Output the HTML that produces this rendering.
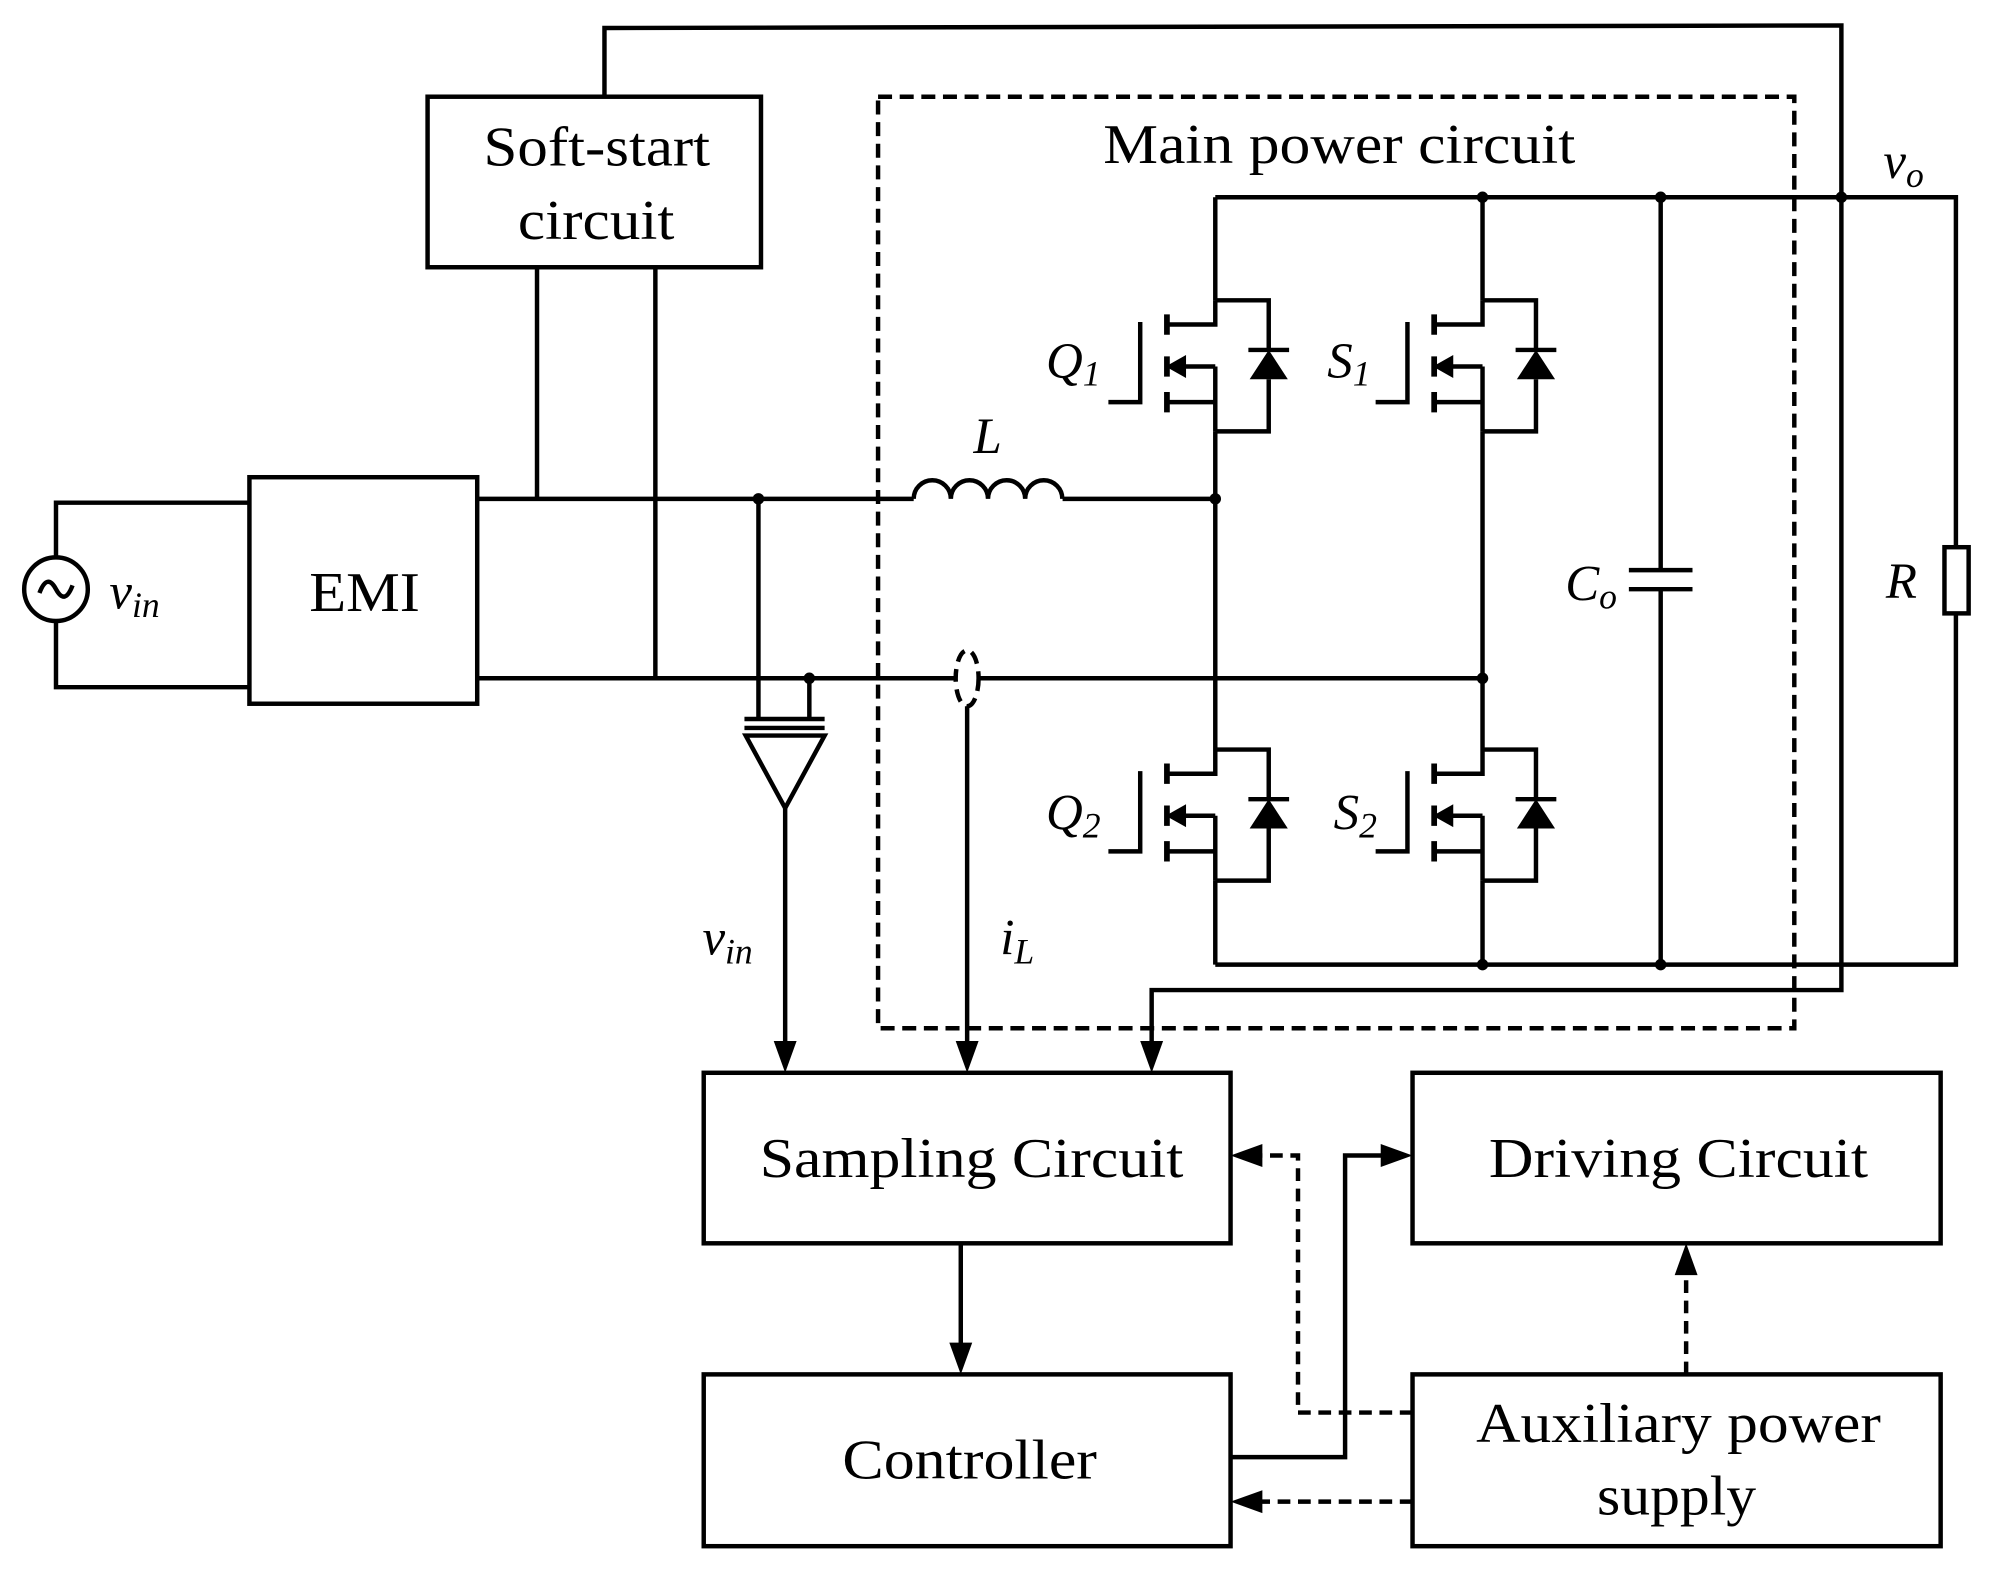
<!DOCTYPE html>
<html><head><meta charset="utf-8"><style>
html,body{margin:0;padding:0;background:#fff;}
svg{display:block;}
text{font-family:"Liberation Serif",serif;fill:#000;}
</style></head><body>
<svg width="1989" height="1571" viewBox="0 0 1563 1234.5" preserveAspectRatio="none" xmlns="http://www.w3.org/2000/svg">
<defs>
<g id="fet" fill="none" stroke="#000" stroke-width="3.5">
  <path d="M0,0 V19 H-38 M0,80 H-38 M0,52 H-26 M0,52 V103 M-59,17 V80 H-84"/>
  <path d="M-38,11 V27 M-38,44 V60 M-38,72 V88" stroke-width="4.5"/>
  <polygon points="-39,52 -23,43 -23,61" fill="#000" stroke="none"/>
  <path d="M0,0 H42 V39 M0,103 H42 V62 M26,39 H58"/>
  <polygon points="27,62 57,62 42,39" fill="#000" stroke="none"/>
</g>
</defs>
<g fill="none" stroke="#000" stroke-width="3.5">
  <path d="M475,76 V22 L1447,20 V778 H905 V825"/>
  <rect x="336" y="76" width="262" height="134"/>
  <path d="M422,210 V392 M515,210 V533"/>
  <rect x="196" y="375" width="179" height="178"/>
  <circle cx="44" cy="463" r="25"/>
  <path d="M31,466 q6,-16 13,-3 q7,13 13,-3"/>
  <path d="M44,438 V395 H196 M44,488 V540 H196"/>
  <path d="M375,392 H718 M835,392 H955"/>
  <path d="M718,392 a14.6,14.6 0 0 1 29.2,0 a14.6,14.6 0 0 1 29.2,0 a14.6,14.6 0 0 1 29.2,0 a14.6,14.6 0 0 1 29.2,0"/>
  <path d="M375,533 H751 M769,533 H1165"/>
  <ellipse cx="760" cy="533" rx="9" ry="22" stroke-dasharray="10,6"/>
  <path d="M760,555 V825"/>
  <path d="M596,392 V565 M636,533 V565 M585,565 H648 M585,572 H648"/>
  <polygon points="586,578 648,578 617,635"/>
  <path d="M617,635 V825"/>
  <rect x="690" y="76" width="720" height="732" stroke-dasharray="11,6"/>
  <path d="M955,155 H1537 V430 M1537,482 V758 H955"/>
  <rect x="1528" y="430" width="19" height="52"/>
  <path d="M955,155 V236 M955,339 V589 M955,692 V758 M1165,155 V236 M1165,339 V589 M1165,692 V758"/>
  <path d="M1305,155 V448 M1305,463 V758 M1280,448 H1330 M1280,463 H1330"/>
  <rect x="553" y="843" width="414" height="134"/>
  <rect x="553" y="1080" width="414" height="135"/>
  <rect x="1110" y="843" width="415" height="134"/>
  <rect x="1110" y="1080" width="415" height="135"/>
  <path d="M755,977 V1060"/>
  <path d="M967,1145 H1057 V908 H1090"/>
  <path d="M1110,1110 H1020 V908 H987" stroke-dasharray="10,6"/>
  <path d="M1110,1180 H987" stroke-dasharray="10,6"/>
  <path d="M1325,1080 V997" stroke-dasharray="10,6"/>
</g>
<use href="#fet" x="955" y="236"/>
<use href="#fet" x="1165" y="236"/>
<use href="#fet" x="955" y="589"/>
<use href="#fet" x="1165" y="589"/>
<g fill="#000">
  <circle cx="596" cy="392" r="4.5"/><circle cx="636" cy="533" r="4.5"/>
  <circle cx="955" cy="392" r="4.5"/><circle cx="1165" cy="533" r="4.5"/>
  <circle cx="1165" cy="155" r="4.5"/><circle cx="1305" cy="155" r="4.5"/><circle cx="1447" cy="155" r="4.5"/>
  <circle cx="1165" cy="758" r="4.5"/><circle cx="1305" cy="758" r="4.5"/>
  <polygon points="608,818 626,818 617,843"/>
  <polygon points="751,818 769,818 760,843"/>
  <polygon points="896,818 914,818 905,843"/>
  <polygon points="746,1055 764,1055 755,1080"/>
  <polygon points="1085,899 1085,917 1110,908"/>
  <polygon points="992,899 992,917 967,908"/>
  <polygon points="992,1171 992,1189 967,1180"/>
  <polygon points="1316,1002 1334,1002 1325,977"/>
</g>
<g font-size="44">
  <text x="380" y="130" textLength="178" lengthAdjust="spacingAndGlyphs">Soft-start</text>
  <text x="407" y="188" textLength="123" lengthAdjust="spacingAndGlyphs">circuit</text>
  <text x="243" y="480" textLength="87" lengthAdjust="spacingAndGlyphs">EMI</text>
  <text x="867" y="128" textLength="371" lengthAdjust="spacingAndGlyphs">Main power circuit</text>
  <text x="597" y="925" textLength="333" lengthAdjust="spacingAndGlyphs">Sampling Circuit</text>
  <text x="1170" y="925" textLength="298" lengthAdjust="spacingAndGlyphs">Driving Circuit</text>
  <text x="662" y="1162" textLength="200" lengthAdjust="spacingAndGlyphs">Controller</text>
  <text x="1160" y="1133" textLength="318" lengthAdjust="spacingAndGlyphs">Auxiliary power</text>
  <text x="1255" y="1190" textLength="125" lengthAdjust="spacingAndGlyphs">supply</text>
</g>
<g font-size="40" font-style="italic">
  <text x="86" y="478">v<tspan font-size="28" dy="7">in</tspan></text>
  <text x="552" y="750">v<tspan font-size="28" dy="7">in</tspan></text>
  <text x="786" y="750">i<tspan font-size="28" dy="7">L</tspan></text>
  <text x="1480" y="140">v<tspan font-size="28" dy="7">o</tspan></text>
  <text x="765" y="356">L</text>
  <text x="822" y="297">Q<tspan font-size="28" dy="6">1</tspan></text>
  <text x="1043" y="297">S<tspan font-size="28" dy="6">1</tspan></text>
  <text x="822" y="652">Q<tspan font-size="28" dy="6">2</tspan></text>
  <text x="1048" y="652">S<tspan font-size="28" dy="6">2</tspan></text>
  <text x="1230" y="472">C<tspan font-size="28" dy="6">o</tspan></text>
  <text x="1482" y="470">R</text>
</g>
</svg>
</body></html>
